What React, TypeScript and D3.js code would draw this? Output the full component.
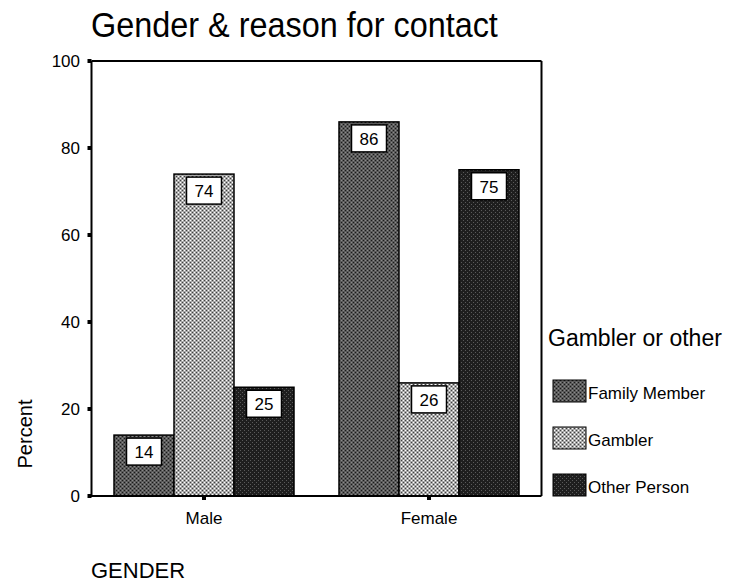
import React from "react";
import * as d3 from "d3";

const genders = ["Male", "Female"];
const contactTypes = ["Family Member", "Gambler", "Other Person"];
const maleValues = [14, 74, 25];
const femaleValues = [86, 26, 75];
const yTicks = [0, 20, 40, 60, 80, 100];

const W = 730;
const H = 582;
const plot = { left: 91.5, right: 541.5, top: 61, bottom: 496 };

const patternIds = ["pat-family", "pat-gambler", "pat-other"];

export default function App() {
  const x = d3
    .scaleBand<string>()
    .domain(genders)
    .range([plot.left, plot.right])
    .paddingInner(0.2)
    .paddingOuter(0.1);
  const xSub = d3
    .scaleBand<string>()
    .domain(contactTypes)
    .range([0, x.bandwidth()])
    .padding(0);
  const y = d3.scaleLinear().domain([0, 100]).range([plot.bottom, plot.top]);

  const rows = genders.map((g, i) => ({
    gender: g,
    values: i === 0 ? maleValues : femaleValues,
  }));

  const font = "Arial, 'Liberation Sans', Helvetica, sans-serif";

  return (
    <svg
      width={W}
      height={H}
      style={{ position: "absolute", left: 0, top: 0, background: "#fff" }}
      fontFamily={font}
    >
      <defs>
        {/* dithered dark gray */}
        <pattern id="pat-family" width="4" height="4" patternUnits="userSpaceOnUse">
          <rect width="4" height="4" fill="#5a5a5a" />
          <rect x="0" y="0" width="1" height="1" fill="#1a1a1a" />
          <rect x="2" y="2" width="1" height="1" fill="#1a1a1a" />
          <rect x="2" y="0" width="1" height="1" fill="#8a8a8a" />
          <rect x="0" y="2" width="1" height="1" fill="#8a8a8a" />
        </pattern>
        {/* dithered light gray */}
        <pattern id="pat-gambler" width="4" height="4" patternUnits="userSpaceOnUse">
          <rect width="4" height="4" fill="#a8a8a8" />
          <rect x="0" y="0" width="1" height="1" fill="#ffffff" />
          <rect x="2" y="2" width="1" height="1" fill="#ffffff" />
          <rect x="2" y="0" width="1" height="1" fill="#404040" />
          <rect x="0" y="2" width="1" height="1" fill="#404040" />
        </pattern>
        {/* dithered near-black */}
        <pattern id="pat-other" width="4" height="4" patternUnits="userSpaceOnUse">
          <rect width="4" height="4" fill="#1e1e1e" />
          <rect x="0" y="0" width="1" height="1" fill="#5a5a5a" />
          <rect x="2" y="2" width="1" height="1" fill="#5a5a5a" />
        </pattern>
      </defs>

      {/* title */}
      <text
        transform="translate(91,37) scale(0.9,1)"
        fontSize={36}
        fill="#000"
      >
        Gender &amp; reason for contact
      </text>

      {/* bars */}
      {rows.map((r) => (
        <g key={r.gender} transform={`translate(${x(r.gender)},0)`}>
          {r.values.map((v, j) => {
            const bx = xSub(contactTypes[j])!;
            const bw = xSub.bandwidth();
            const top = y(v);
            return (
              <g key={j}>
                <rect
                  x={bx}
                  y={top}
                  width={bw}
                  height={y(0) - top}
                  fill={`url(#${patternIds[j]})`}
                  stroke="#000"
                  strokeWidth={1.5}
                />
                <rect
                  x={bx + bw / 2 - 17.5}
                  y={top + 3}
                  width={35}
                  height={27}
                  fill="#fff"
                  stroke="#000"
                  strokeWidth={1.5}
                />
                <text
                  x={bx + bw / 2}
                  y={top + 23}
                  textAnchor="middle"
                  fontSize={17}
                  fill="#000"
                >
                  {v}
                </text>
              </g>
            );
          })}
        </g>
      ))}

      {/* frame */}
      <line x1={plot.left} x2={plot.right} y1={plot.top} y2={plot.top} stroke="#000" strokeWidth={2} />
      <line x1={plot.right} x2={plot.right} y1={plot.top} y2={plot.bottom} stroke="#000" strokeWidth={2} />
      <line x1={plot.left} x2={plot.left} y1={plot.top} y2={plot.bottom} stroke="#000" strokeWidth={2} />
      <line x1={plot.left - 3} x2={plot.right} y1={plot.bottom} y2={plot.bottom} stroke="#000" strokeWidth={2} />

      {/* y axis ticks */}
      {yTicks.map((t) => (
        <g key={t}>
          <rect x={plot.left - 4} y={y(t) - 2} width={4} height={4} fill="#000" />
          <text x={80} y={y(t) + 6} textAnchor="end" fontSize={17} fill="#000">
            {t}
          </text>
        </g>
      ))}

      {/* x axis ticks */}
      {genders.map((g) => {
        const cx = x(g)! + x.bandwidth() / 2;
        return (
          <g key={g}>
            <rect x={cx - 2} y={plot.bottom} width={4} height={4} fill="#000" />
            <text x={cx} y={524} textAnchor="middle" fontSize={17} fill="#000">
              {g}
            </text>
          </g>
        );
      })}

      {/* axis titles */}
      <text
        transform="translate(32,434) rotate(-90)"
        textAnchor="middle"
        fontSize={20}
        fill="#000"
      >
        Percent
      </text>
      <text x={91} y={578} fontSize={22} fill="#000">
        GENDER
      </text>

      {/* legend */}
      <text x={548} y={346} fontSize={23} fill="#000">
        Gambler or other
      </text>
      {contactTypes.map((c, j) => {
        const ly = 380 + j * 47;
        return (
          <g key={c}>
            <rect
              x={553}
              y={ly}
              width={33}
              height={22}
              fill={`url(#${patternIds[j]})`}
              stroke="#000"
              strokeWidth={1}
            />
            <text x={588} y={ly + 19} fontSize={17} fill="#000">
              {c}
            </text>
          </g>
        );
      })}
    </svg>
  );
}
